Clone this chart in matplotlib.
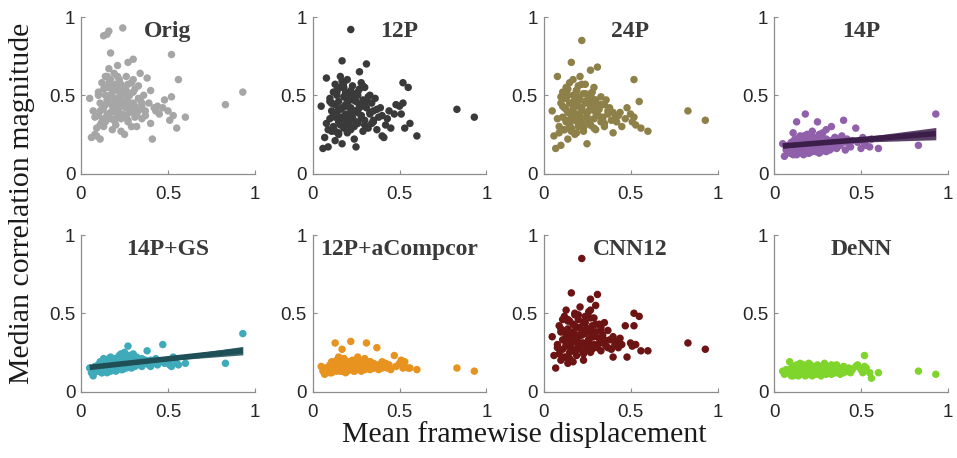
import numpy as np
import matplotlib
matplotlib.use("Agg")
import matplotlib.pyplot as plt

# Mean framewise displacement (shared by all panels)
fd = [0.05, 0.06, 0.07, 0.08, 0.09, 0.10, 0.10, 0.11, 0.11, 0.12,
      0.12, 0.13, 0.13, 0.13, 0.14, 0.14, 0.15, 0.15, 0.15, 0.16,
      0.16, 0.16, 0.17, 0.17, 0.17, 0.18, 0.18, 0.18, 0.19, 0.19,
      0.19, 0.20, 0.20, 0.20, 0.21, 0.21, 0.22, 0.22, 0.22, 0.23,
      0.23, 0.24, 0.24, 0.25, 0.25, 0.26, 0.26, 0.27, 0.27, 0.28,
      0.28, 0.29, 0.29, 0.30, 0.30, 0.31, 0.31, 0.32, 0.33, 0.33,
      0.34, 0.35, 0.35, 0.36, 0.37, 0.38, 0.39, 0.40, 0.40, 0.41,
      0.42, 0.43, 0.44, 0.45, 0.47, 0.48, 0.50, 0.51, 0.52, 0.52,
      0.53, 0.55, 0.56, 0.60, 0.83, 0.93,
      0.09, 0.11, 0.13, 0.14, 0.16, 0.17, 0.18, 0.19, 0.20, 0.21,
      0.22, 0.23, 0.24, 0.25, 0.26, 0.27, 0.28, 0.30, 0.32, 0.34,
      0.08, 0.10, 0.12, 0.13, 0.14, 0.15, 0.16, 0.17, 0.18, 0.19,
      0.20, 0.21, 0.22, 0.23, 0.24, 0.25, 0.26, 0.27, 0.28, 0.29,
      0.30, 0.31, 0.33, 0.35, 0.37, 0.11, 0.15, 0.19, 0.23, 0.27]

orig = [0.48, 0.23, 0.40, 0.25, 0.24, 0.37, 0.52, 0.22, 0.45, 0.33,
        0.58, 0.88, 0.42, 0.30, 0.62, 0.50, 0.89, 0.38, 0.55, 0.91,
        0.46, 0.67, 0.77, 0.35, 0.60, 0.43, 0.28, 0.53, 0.40, 0.64,
        0.34, 0.48, 0.57, 0.31, 0.44, 0.69, 0.38, 0.52, 0.60, 0.27,
        0.46, 0.93, 0.36, 0.55, 0.25, 0.42, 0.62, 0.71, 0.33, 0.50,
        0.39, 0.58, 0.30, 0.73, 0.45, 0.36, 0.54, 0.30, 0.48, 0.40,
        0.64, 0.43, 0.35, 0.50, 0.40, 0.61, 0.45, 0.53, 0.32, 0.22,
        0.42, 0.40, 0.43, 0.38, 0.42, 0.47, 0.40, 0.34, 0.49, 0.76,
        0.37, 0.29, 0.60, 0.36, 0.44, 0.52,
        0.29, 0.40, 0.35, 0.44, 0.37, 0.50, 0.45, 0.56, 0.39, 0.62,
        0.47, 0.35, 0.51, 0.43, 0.37, 0.57, 0.44, 0.60, 0.38, 0.47,
        0.36, 0.50, 0.41, 0.54, 0.33, 0.47, 0.58, 0.39, 0.52, 0.44,
        0.35, 0.55, 0.42, 0.50, 0.38, 0.46, 0.53, 0.34, 0.45, 0.40,
        0.52, 0.43, 0.56, 0.45, 0.37, 0.31, 0.62, 0.42, 0.57, 0.49]

p12 = [0.43, 0.16, 0.23, 0.61, 0.17, 0.35, 0.48, 0.27, 0.40, 0.52,
       0.30, 0.44, 0.57, 0.21, 0.38, 0.50, 0.33, 0.46, 0.25, 0.62,
       0.41, 0.55, 0.72, 0.19, 0.36, 0.49, 0.29, 0.58, 0.43, 0.34,
       0.52, 0.26, 0.45, 0.60, 0.38, 0.31, 0.53, 0.92, 0.42, 0.35,
       0.56, 0.48, 0.22, 0.17, 0.40, 0.50, 0.32, 0.65, 0.44, 0.58,
       0.37, 0.27, 0.47, 0.55, 0.34, 0.42, 0.70, 0.29, 0.38, 0.50,
       0.45, 0.33, 0.40, 0.48, 0.28, 0.36, 0.42, 0.24, 0.37, 0.23,
       0.31, 0.35, 0.40, 0.29, 0.38, 0.44, 0.43, 0.38, 0.58, 0.45,
       0.29, 0.55, 0.32, 0.24, 0.41, 0.36,
       0.28, 0.45, 0.36, 0.52, 0.31, 0.42, 0.55, 0.38, 0.47, 0.33,
       0.41, 0.51, 0.30, 0.46, 0.39, 0.54, 0.35, 0.43, 0.49, 0.32,
       0.32, 0.46, 0.38, 0.27, 0.53, 0.41, 0.35, 0.59, 0.30, 0.44,
       0.50, 0.36, 0.28, 0.47, 0.40, 0.33, 0.52, 0.43, 0.37, 0.56,
       0.31, 0.46, 0.39, 0.34, 0.41, 0.45, 0.26, 0.51, 0.36, 0.42]

p24 = [0.40, 0.24, 0.16, 0.62, 0.30, 0.18, 0.45, 0.36, 0.52, 0.28,
       0.42, 0.55, 0.33, 0.48, 0.22, 0.39, 0.58, 0.31, 0.45, 0.36,
       0.71, 0.27, 0.50, 0.41, 0.60, 0.34, 0.47, 0.25, 0.53, 0.38,
       0.44, 0.56, 0.30, 0.49, 0.37, 0.62, 0.42, 0.85, 0.33, 0.51,
       0.27, 0.45, 0.57, 0.36, 0.19, 0.48, 0.40, 0.66, 0.31, 0.52,
       0.43, 0.35, 0.55, 0.28, 0.46, 0.38, 0.68, 0.41, 0.33, 0.49,
       0.36, 0.44, 0.30, 0.47, 0.38, 0.42, 0.34, 0.39, 0.26, 0.35,
       0.33, 0.37, 0.39, 0.30, 0.35, 0.42, 0.38, 0.33, 0.60, 0.36,
       0.31, 0.46, 0.29, 0.27, 0.40, 0.34,
       0.26, 0.43, 0.34, 0.50, 0.29, 0.44, 0.37, 0.53, 0.32, 0.47,
       0.40, 0.29, 0.51, 0.36, 0.45, 0.31, 0.48, 0.39, 0.43, 0.35,
       0.35, 0.49, 0.28, 0.41, 0.54, 0.32, 0.45, 0.38, 0.50, 0.26,
       0.43, 0.36, 0.57, 0.30, 0.46, 0.39, 0.33, 0.51, 0.42, 0.29,
       0.47, 0.37, 0.44, 0.32, 0.40, 0.48, 0.34, 0.53, 0.30, 0.43]

p14 = [0.19, 0.11, 0.15, 0.17, 0.13, 0.20, 0.16, 0.26, 0.14, 0.18,
       0.22, 0.33, 0.15, 0.12, 0.19, 0.17, 0.21, 0.13, 0.24, 0.16,
       0.20, 0.14, 0.18, 0.23, 0.12, 0.38, 0.17, 0.21, 0.15, 0.19,
       0.25, 0.13, 0.18, 0.22, 0.16, 0.20, 0.14, 0.27, 0.19, 0.17,
       0.23, 0.15, 0.21, 0.33, 0.18, 0.13, 0.24, 0.17, 0.20, 0.26,
       0.16, 0.22, 0.19, 0.14, 0.28, 0.18, 0.21, 0.15, 0.30, 0.20,
       0.17, 0.23, 0.19, 0.16, 0.21, 0.18, 0.24, 0.34, 0.20, 0.15,
       0.22, 0.19, 0.17, 0.21, 0.29, 0.20, 0.16, 0.23, 0.19, 0.21,
       0.18, 0.17, 0.22, 0.16, 0.18, 0.38,
       0.15, 0.19, 0.22, 0.16, 0.20, 0.24, 0.18, 0.15, 0.21, 0.17,
       0.23, 0.19, 0.14, 0.22, 0.18, 0.25, 0.20, 0.16, 0.21, 0.19,
       0.18, 0.14, 0.21, 0.16, 0.19, 0.23, 0.15, 0.20, 0.17, 0.24,
       0.13, 0.19, 0.22, 0.16, 0.20, 0.18, 0.25, 0.14, 0.21, 0.17,
       0.22, 0.19, 0.16, 0.23, 0.20, 0.12, 0.17, 0.21, 0.15, 0.19]

p14gs = [0.15, 0.12, 0.10, 0.16, 0.14, 0.17, 0.13, 0.19, 0.15, 0.12,
         0.18, 0.14, 0.21, 0.16, 0.13, 0.19, 0.15, 0.17, 0.12, 0.20,
         0.16, 0.14, 0.22, 0.18, 0.13, 0.17, 0.20, 0.15, 0.19, 0.14,
         0.18, 0.16, 0.21, 0.13, 0.19, 0.17, 0.23, 0.15, 0.20, 0.16,
         0.18, 0.14, 0.22, 0.17, 0.25, 0.15, 0.19, 0.29, 0.16, 0.21,
         0.18, 0.15, 0.20, 0.24, 0.17, 0.19, 0.16, 0.22, 0.18, 0.20,
         0.17, 0.21, 0.16, 0.19, 0.18, 0.26, 0.17, 0.20, 0.16, 0.19,
         0.18, 0.21, 0.17, 0.19, 0.30, 0.18, 0.20, 0.17, 0.16, 0.19,
         0.22, 0.18, 0.17, 0.18, 0.18, 0.37,
         0.13, 0.16, 0.19, 0.14, 0.17, 0.20, 0.15, 0.18, 0.21, 0.16,
         0.19, 0.14, 0.22, 0.17, 0.20, 0.18, 0.23, 0.16, 0.19, 0.17,
         0.14, 0.17, 0.12, 0.19, 0.15, 0.18, 0.21, 0.14, 0.16, 0.20,
         0.17, 0.15, 0.19, 0.22, 0.16, 0.18, 0.20, 0.23, 0.17, 0.19,
         0.16, 0.21, 0.18, 0.17, 0.20, 0.13, 0.15, 0.18, 0.24, 0.19]

p12acc = [0.16, 0.13, 0.11, 0.15, 0.14, 0.17, 0.12, 0.19, 0.15, 0.13,
          0.18, 0.31, 0.14, 0.16, 0.20, 0.13, 0.17, 0.15, 0.22, 0.14,
          0.16, 0.19, 0.13, 0.27, 0.15, 0.18, 0.14, 0.21, 0.16, 0.12,
          0.17, 0.15, 0.19, 0.13, 0.18, 0.16, 0.14, 0.32, 0.17, 0.15,
          0.20, 0.13, 0.16, 0.18, 0.14, 0.22, 0.15, 0.17, 0.19, 0.13,
          0.16, 0.18, 0.14, 0.21, 0.15, 0.17, 0.31, 0.16, 0.19, 0.14,
          0.17, 0.15, 0.18, 0.16, 0.28, 0.14, 0.17, 0.19, 0.15, 0.16,
          0.18, 0.15, 0.17, 0.14, 0.23, 0.16, 0.18, 0.20, 0.17, 0.15,
          0.19, 0.15, 0.15, 0.14, 0.15, 0.13,
          0.14, 0.16, 0.18, 0.15, 0.13, 0.17, 0.19, 0.14, 0.16, 0.18,
          0.15, 0.17, 0.13, 0.16, 0.19, 0.15, 0.17, 0.14, 0.18, 0.16,
          0.15, 0.13, 0.17, 0.19, 0.14, 0.16, 0.18, 0.15, 0.21, 0.13,
          0.17, 0.16, 0.19, 0.14, 0.18, 0.15, 0.17, 0.20, 0.16, 0.14,
          0.18, 0.16, 0.19, 0.15, 0.17, 0.12, 0.14, 0.18, 0.16, 0.20]

cnn12 = [0.35, 0.23, 0.15, 0.30, 0.42, 0.20, 0.38, 0.27, 0.33, 0.48,
         0.22, 0.36, 0.29, 0.52, 0.18, 0.40, 0.31, 0.25, 0.45, 0.34,
         0.63, 0.28, 0.38, 0.19, 0.43, 0.32, 0.50, 0.26, 0.36, 0.41,
         0.23, 0.30, 0.46, 0.35, 0.27, 0.54, 0.39, 0.85, 0.31, 0.44,
         0.20, 0.37, 0.48, 0.29, 0.40, 0.33, 0.51, 0.59, 0.25, 0.42,
         0.35, 0.30, 0.47, 0.38, 0.55, 0.28, 0.62, 0.34, 0.41, 0.26,
         0.36, 0.31, 0.44, 0.29, 0.39, 0.33, 0.27, 0.35, 0.22, 0.30,
         0.32, 0.28, 0.34, 0.30, 0.42, 0.22, 0.31, 0.29, 0.50, 0.42,
         0.30, 0.48, 0.26, 0.26, 0.31, 0.27,
         0.24, 0.39, 0.30, 0.46, 0.27, 0.35, 0.42, 0.32, 0.49, 0.28,
         0.37, 0.44, 0.26, 0.40, 0.33, 0.47, 0.29, 0.38, 0.43, 0.31,
         0.28, 0.40, 0.33, 0.22, 0.45, 0.30, 0.37, 0.26, 0.49, 0.34,
         0.29, 0.41, 0.36, 0.24, 0.44, 0.31, 0.38, 0.52, 0.27, 0.35,
         0.43, 0.30, 0.39, 0.33, 0.28, 0.46, 0.21, 0.36, 0.31, 0.40]

dennn = [0.13, 0.11, 0.14, 0.12, 0.19, 0.15, 0.10, 0.13, 0.16, 0.12,
         0.14, 0.11, 0.17, 0.13, 0.15, 0.10, 0.18, 0.12, 0.14, 0.16,
         0.11, 0.13, 0.15, 0.12, 0.17, 0.14, 0.10, 0.13, 0.16, 0.12,
         0.15, 0.11, 0.14, 0.18, 0.12, 0.13, 0.16, 0.10, 0.14, 0.12,
         0.15, 0.13, 0.11, 0.17, 0.14, 0.12, 0.16, 0.13, 0.10, 0.15,
         0.12, 0.14, 0.18, 0.11, 0.13, 0.15, 0.12, 0.16, 0.14, 0.11,
         0.13, 0.15, 0.12, 0.17, 0.14, 0.11, 0.13, 0.16, 0.12, 0.14,
         0.13, 0.15, 0.12, 0.14, 0.16, 0.17, 0.14, 0.12, 0.23, 0.16,
         0.15, 0.12, 0.085, 0.12, 0.13, 0.11,
         0.12, 0.14, 0.13, 0.16, 0.11, 0.15, 0.13, 0.12, 0.14, 0.17,
         0.13, 0.11, 0.15, 0.12, 0.14, 0.13, 0.16, 0.12, 0.14, 0.13,
         0.12, 0.14, 0.13, 0.15, 0.11, 0.16, 0.13, 0.12, 0.15, 0.14,
         0.17, 0.12, 0.13, 0.15, 0.11, 0.14, 0.16, 0.13, 0.12, 0.14,
         0.15, 0.13, 0.17, 0.12, 0.14, 0.10, 0.13, 0.15, 0.12, 0.14]

titles = ["Orig", "12P", "24P", "14P", "14P+GS", "12P+aCompcor", "CNN12", "DeNN"]
series = [orig, p12, p24, p14, p14gs, p12acc, cnn12, dennn]
colors = ["#a6a6a6", "#3a3a3a", "#8e8049", "#9160ab", "#3fabba", "#e8921f", "#6c1313", "#7fd52b"]
fit_colors = {3: "#3b1f4a", 4: "#1f4f57"}
ticks = [0, 0.5, 1]
tick_labels = ["0", "0.5", "1"]

W, H = 957, 458
fig = plt.figure(figsize=(W / 100, H / 100), dpi=100)

col_left = [81, 312.5, 543.5, 774]
row_top = [17, 235]
ax_w, ax_h = 174, 156.5

x = np.array(fd)
for i, (name, yv, c) in enumerate(zip(titles, series, colors)):
    r, cidx = divmod(i, 4)
    ax = fig.add_axes([col_left[cidx] / W, 1 - (row_top[r] + ax_h) / H, ax_w / W, ax_h / H])
    y = np.array(yv)
    ax.scatter(x, y, s=29, color=c, edgecolors="none", zorder=2, clip_on=False)
    if i in fit_colors:
        b, a = np.polyfit(x, y, 1)
        xs = np.linspace(x.min(), x.max(), 100)
        ys = a + b * xs
        n = len(x)
        resid = y - (a + b * x)
        s_err = np.sqrt(np.sum(resid ** 2) / (n - 2))
        se = s_err * np.sqrt(1 / n + (xs - x.mean()) ** 2 / np.sum((x - x.mean()) ** 2))
        ax.fill_between(xs, ys - 2.0 * se, ys + 2.0 * se, color=fit_colors[i], alpha=0.85, lw=0, zorder=3)
        ax.plot(xs, ys, color=fit_colors[i], lw=4, zorder=4, solid_capstyle="butt")
    ax.set_xlim(0, 1)
    ax.set_ylim(0, 1)
    ax.set_xticks(ticks)
    ax.set_xticklabels(tick_labels)
    ax.set_yticks(ticks)
    ax.set_yticklabels(tick_labels)
    for sp in ["top", "right"]:
        ax.spines[sp].set_visible(False)
    for sp in ["left", "bottom"]:
        ax.spines[sp].set_color("#8c8c8c")
        ax.spines[sp].set_linewidth(0.9)
    ax.tick_params(direction="in", length=3, width=0.8, color="#8c8c8c",
                   labelsize=13.5, labelcolor="#262626", labelfontfamily="Liberation Sans")
    ax.tick_params(axis="x", pad=9)
    ax.tick_params(axis="y", pad=4)
    ax.text(0.5, 0.872, name, transform=ax.transAxes, ha="center", va="baseline",
            fontsize=17, fontweight="bold", family="Liberation Serif", color="#3a3a3a")

fig.text(524 / W, 1 - 441.7 / H, "Mean framewise displacement", ha="center", va="baseline",
         fontsize=21.5, family="Liberation Serif", color="#1a1a1a")
fig.text(22 / W, 1 - 203 / H, "Median correlation magnitude", ha="center", va="center",
         rotation=90, fontsize=21.5, family="Liberation Serif", color="#1a1a1a")

fig.savefig("out.png", dpi=100)
